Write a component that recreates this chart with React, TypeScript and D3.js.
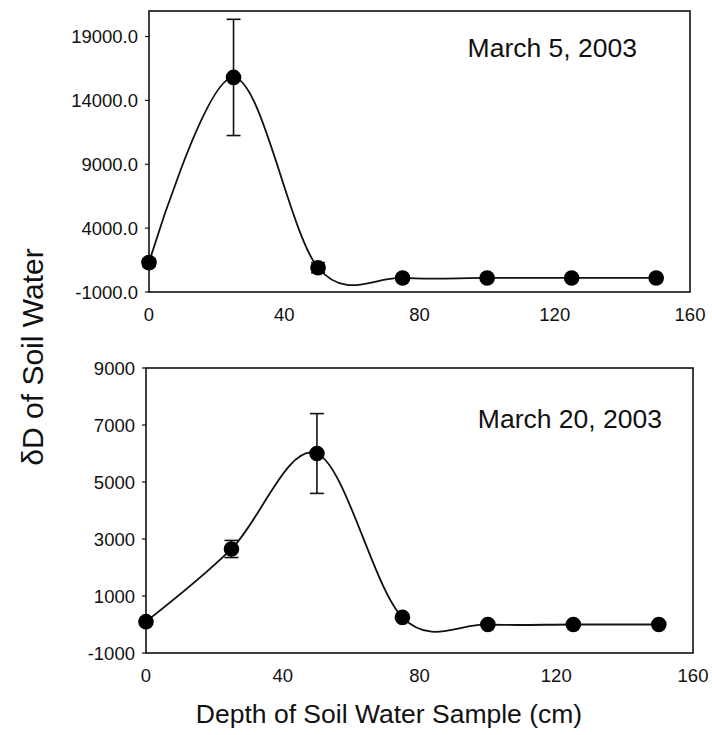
import React from "react";
import * as d3 from "d3";

// depth of sample (cm)
const depths = [0, 25, 50, 75, 100, 125, 150];

// March 5, 2003
const march5Values = [1300, 15800, 900, 100, 100, 100, 100];
const march5Errors = [300, 4550, 400, 0, 0, 0, 0];
const march5Ticks = [-1000, 4000, 9000, 14000, 19000];

// March 20, 2003
const march20Values = [100, 2650, 6000, 250, 0, 0, 0];
const march20Errors = [0, 300, 1400, 0, 0, 0, 0];
const march20Ticks = [-1000, 1000, 3000, 5000, 7000, 9000];

const xTicks = [0, 40, 80, 120, 160];

const FONT = "'Liberation Sans', Arial, sans-serif";

type PanelProps = {
  left: number;
  right: number;
  top: number;
  bottom: number;
  values: number[];
  errors: number[];
  yTicks: number[];
  yMax: number;
  decimals: number;
  label: string;
  labelRight: number;
  labelY: number;
};

function Panel(p: PanelProps) {
  const x = d3.scaleLinear().domain([0, 160]).range([p.left, p.right]);
  const y = d3.scaleLinear().domain([-1000, p.yMax]).range([p.bottom, p.top]);
  const fmt = (t: number) => t.toFixed(p.decimals); // plain hyphen minus like the source
  const pts = depths.map((d, i) => ({ d, v: p.values[i], e: p.errors[i] }));
  const line = d3
    .line<{ d: number; v: number }>()
    .x((q) => x(q.d))
    .y((q) => y(q.v))
    .curve(d3.curveCardinal.tension(0));

  return (
    <g>
      <rect
        x={p.left}
        y={p.top}
        width={p.right - p.left}
        height={p.bottom - p.top}
        fill="none"
        stroke="#111"
        strokeWidth={1.6}
      />
      {p.yTicks.map((t) => (
        <g key={t}>
          <line x1={p.left - 4} x2={p.left} y1={y(t)} y2={y(t)} stroke="#111" strokeWidth={1.2} />
          <text
            x={p.left - 11}
            y={y(t)}
            dy="0.36em"
            textAnchor="end"
            fontSize={18.5}
            fontFamily={FONT}
            fill="#111"
          >
            {fmt(t)}
          </text>
        </g>
      ))}
      {xTicks.map((t) => (
        <text
          key={t}
          x={x(t)}
          y={p.bottom + 29}
          textAnchor="middle"
          fontSize={18.5}
          fontFamily={FONT}
          fill="#111"
        >
          {t}
        </text>
      ))}
      <path d={line(pts) ?? ""} fill="none" stroke="#111" strokeWidth={1.8} />
      {pts
        .filter((q) => q.e > 0)
        .map((q) => (
          <g key={"e" + q.d} stroke="#111" strokeWidth={1.6}>
            <line x1={x(q.d)} x2={x(q.d)} y1={y(q.v - q.e)} y2={y(q.v + q.e)} />
            <line x1={x(q.d) - 7} x2={x(q.d) + 7} y1={y(q.v + q.e)} y2={y(q.v + q.e)} />
            <line x1={x(q.d) - 7} x2={x(q.d) + 7} y1={y(q.v - q.e)} y2={y(q.v - q.e)} />
          </g>
        ))}
      {pts.map((q) => (
        <circle key={q.d} cx={x(q.d)} cy={y(q.v)} r={7.8} fill="#000" />
      ))}
      <text
        x={p.labelRight}
        y={p.labelY}
        textAnchor="end"
        fontSize={26.5}
        fontFamily={FONT}
        fill="#111"
      >
        {p.label}
      </text>
    </g>
  );
}

export default function App() {
  return (
    <svg
      width={712}
      height={735}
      style={{ position: "absolute", left: 0, top: 0, background: "#fff" }}
    >
      <Panel
        left={149}
        right={690}
        top={11}
        bottom={292}
        values={march5Values}
        errors={march5Errors}
        yTicks={march5Ticks}
        yMax={21000}
        decimals={1}
        label="March 5, 2003"
        labelRight={637}
        labelY={57}
      />
      <Panel
        left={146}
        right={693}
        top={368}
        bottom={653}
        values={march20Values}
        errors={march20Errors}
        yTicks={march20Ticks}
        yMax={9000}
        decimals={0}
        label="March 20, 2003"
        labelRight={662}
        labelY={428}
      />
      <text
        transform="translate(43,357) rotate(-90)"
        textAnchor="middle"
        fontSize={30}
        fontFamily={FONT}
        fill="#111"
      >
        δD of Soil Water
      </text>
      <text
        x={389}
        y={723}
        textAnchor="middle"
        fontSize={26.5}
        fontFamily={FONT}
        fill="#111"
      >
        Depth of Soil Water Sample (cm)
      </text>
    </svg>
  );
}
